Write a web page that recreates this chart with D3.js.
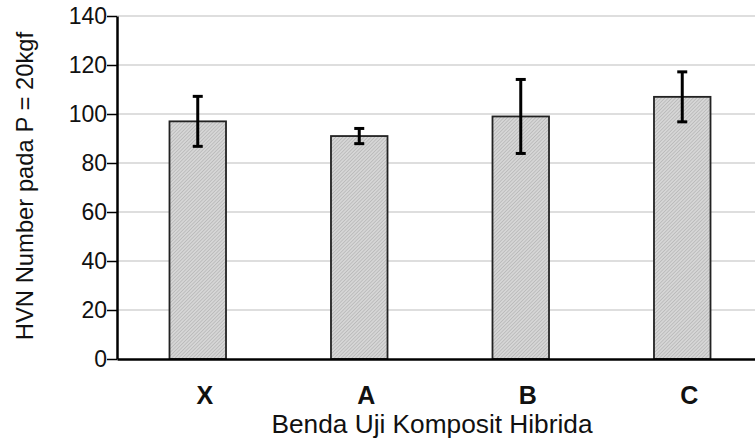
<!DOCTYPE html>
<html>
<head>
<meta charset="utf-8">
<script src="https://cdn.jsdelivr.net/npm/d3@7"></script>
<style>
  body { margin: 0; background: #fff; }
  svg { display: block; font-family: "Liberation Sans", Arial, sans-serif; }
</style>
</head>
<body>
<svg id="chart" width="755" height="441"></svg>
<script>
// chart data
const categories = ["X", "A", "B", "C"];
const hvnValues = [97, 91, 99, 107];
const errorValues = [10.2, 3.1, 15.1, 10.2];
const yTicks = [0, 20, 40, 60, 80, 100, 120, 140];

const margin = {top: 16, left: 117, bottom: 82};
const width = 646;   // plot runs past the right edge, like the original
const height = 441 - margin.top - margin.bottom;

const svg = d3.select("#chart");

// hatched fill for the bars
const defs = svg.append("defs");
const pat = defs.append("pattern")
  .attr("id", "hatch")
  .attr("patternUnits", "userSpaceOnUse")
  .attr("width", 2.5).attr("height", 2.5)
  .attr("patternTransform", "rotate(45)");
pat.append("rect").attr("width", 2.5).attr("height", 2.5).attr("fill", "#d6d6d6");
pat.append("line").attr("x1", 0).attr("y1", 0).attr("x2", 0).attr("y2", 2.5)
  .attr("stroke", "#acacac").attr("stroke-width", 1.1);

const g = svg.append("g").attr("transform", `translate(${margin.left},${margin.top})`);

const x = d3.scaleBand().domain(categories).range([0, width]).paddingInner(0.65).paddingOuter(0.325);
const y = d3.scaleLinear().domain([0, 140]).range([height, 0]);

// gridlines
g.append("g")
  .selectAll("line")
  .data(yTicks.filter(d => d > 0))
  .join("line")
  .attr("x1", 0).attr("x2", width)
  .attr("y1", d => y(d)).attr("y2", d => y(d))
  .attr("stroke", "#dedede").attr("stroke-width", 2);

// bars
g.append("g")
  .selectAll("rect")
  .data(categories)
  .join("rect")
  .attr("x", d => x(d))
  .attr("y", (d, i) => y(hvnValues[i]))
  .attr("width", x.bandwidth())
  .attr("height", (d, i) => y(0) - y(hvnValues[i]))
  .attr("fill", "url(#hatch)")
  .attr("stroke", "#222").attr("stroke-width", 1.8);

// error bars
const err = g.append("g").attr("stroke", "#000").attr("stroke-width", 3);
categories.forEach((c, i) => {
  const cx = x(c) + x.bandwidth() / 2;
  const hi = y(hvnValues[i] + errorValues[i]);
  const lo = y(hvnValues[i] - errorValues[i]);
  err.append("line").attr("x1", cx).attr("x2", cx).attr("y1", hi).attr("y2", lo);
  err.append("line").attr("x1", cx - 5).attr("x2", cx + 5).attr("y1", hi).attr("y2", hi);
  err.append("line").attr("x1", cx - 5).attr("x2", cx + 5).attr("y1", lo).attr("y2", lo);
});

// y axis
const yAxis = g.append("g")
  .call(d3.axisLeft(y).tickValues(yTicks).tickSize(10).tickPadding(0).tickSizeOuter(0));
yAxis.select(".domain").attr("stroke", "#000").attr("stroke-width", 2.5);
yAxis.selectAll(".tick line").attr("stroke", "#000").attr("stroke-width", 1.5);
yAxis.selectAll(".tick text").attr("font-size", 23).attr("fill", "#111")
  .attr("font-family", "Liberation Sans, Arial, sans-serif");

// x axis, labels sit a little right of the bar centres as in the original
const xAxis = g.append("g")
  .attr("transform", `translate(0,${height})`)
  .call(d3.axisBottom(x).tickSize(0).tickPadding(27).tickSizeOuter(0));
xAxis.select(".domain").attr("stroke", "#000").attr("stroke-width", 2.5);
xAxis.selectAll(".tick text").attr("font-size", 25).attr("font-weight", "bold").attr("fill", "#111")
  .attr("dx", 7)
  .attr("font-family", "Liberation Sans, Arial, sans-serif");

// axis titles
svg.append("text")
  .attr("x", 432).attr("y", 433)
  .attr("text-anchor", "middle")
  .attr("font-size", 26).attr("fill", "#111")
  .attr("textLength", 321).attr("lengthAdjust", "spacingAndGlyphs")
  .text("Benda Uji Komposit Hibrida");

svg.append("text")
  .attr("transform", "translate(33,186) rotate(-90)")
  .attr("text-anchor", "middle")
  .attr("font-size", 23.8).attr("fill", "#111")
  .text("HVN Number pada P = 20kgf");
</script>
</body>
</html>
